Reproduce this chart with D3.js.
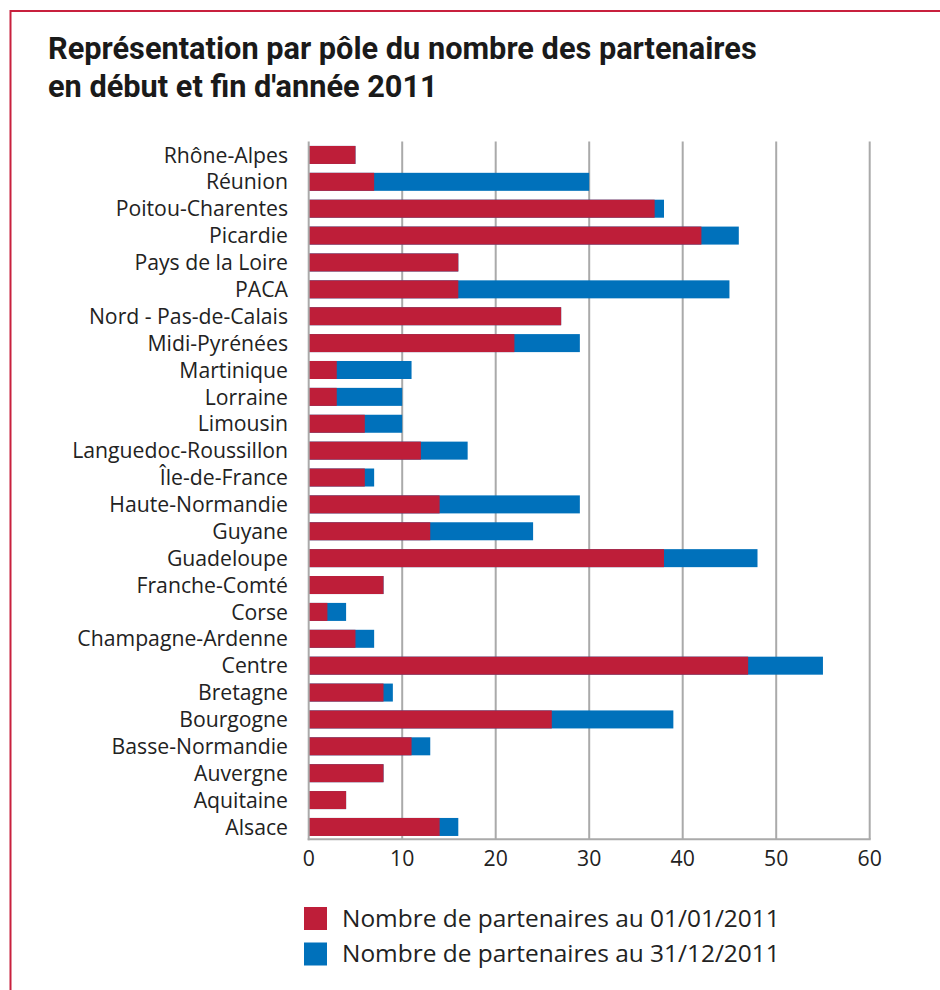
<!DOCTYPE html>
<html>
<head>
<meta charset="utf-8">
<script src="https://cdn.jsdelivr.net/npm/d3@7"></script>
<style>
  html, body { margin: 0; padding: 0; background: #fff; }
  svg { display: block; }
</style>
</head>
<body>
<svg id="chart" width="940" height="990"></svg>
<script>
const titleLines = ["Représentation par pôle du nombre des partenaires", "en début et fin d'année 2011"];
const categories = ["Rhône-Alpes", "Réunion", "Poitou-Charentes", "Picardie", "Pays de la Loire", "PACA",
  "Nord - Pas-de-Calais", "Midi-Pyrénées", "Martinique", "Lorraine", "Limousin", "Languedoc-Roussillon",
  "Île-de-France", "Haute-Normandie", "Guyane", "Guadeloupe", "Franche-Comté", "Corse",
  "Champagne-Ardenne", "Centre", "Bretagne", "Bourgogne", "Basse-Normandie", "Auvergne", "Aquitaine", "Alsace"];
const debut2011 = [5, 7, 37, 42, 16, 16, 27, 22, 3, 3, 6, 12, 6, 14, 13, 38, 8, 2, 5, 47, 8, 26, 11, 8, 4, 14];
const fin2011   = [5, 30, 38, 46, 16, 45, 27, 29, 11, 10, 10, 17, 7, 29, 24, 48, 8, 4, 7, 55, 9, 39, 13, 8, 4, 16];
const xTicks = [0, 10, 20, 30, 40, 50, 60];
const seriesNames = ["Nombre de partenaires au 01/01/2011", "Nombre de partenaires au 31/12/2011"];
const colors = ["#be1e39", "#0071bb"];

const svg = d3.select("#chart");
const titleFont = "Roboto, 'Open Sans', sans-serif";
const bodyFont = "'Open Sans', Roboto, sans-serif";

// scale a font size so that a sample string reaches a target width
function fitSize(text, family, weight, target) {
  const t = svg.append("text").attr("font-family", family).attr("font-weight", weight)
    .attr("font-size", 20).text(text);
  const w = t.node().getComputedTextLength();
  t.remove();
  return 20 * target / w;
}

// frame
svg.append("line").attr("x1", 10.5).attr("x2", 940).attr("y1", 11).attr("y2", 11)
  .attr("stroke", "#c8203d").attr("stroke-width", 2);
svg.append("line").attr("x1", 10.5).attr("x2", 10.5).attr("y1", 10).attr("y2", 990)
  .attr("stroke", "#c8203d").attr("stroke-width", 2);

// title
const titleSize = fitSize(titleLines[0], titleFont, 700, 709);
svg.append("g").selectAll("text").data(titleLines).join("text")
  .attr("x", 48).attr("y", (d, i) => 59 + i * 38)
  .attr("font-family", titleFont).attr("font-weight", 700).attr("font-size", titleSize)
  .attr("fill", "#1a1a1a").text(d => d);

const x = d3.scaleLinear().domain([0, 60]).range([308.7, 869.7]);
const y = d3.scaleBand().domain(categories).range([141.5, 840.4]).paddingInner(0.33).paddingOuter(0.165);
const axisY = 839.3;

// grid
svg.append("g").selectAll("line").data(xTicks.filter(t => t > 0)).join("line")
  .attr("x1", d => x(d)).attr("x2", d => x(d)).attr("y1", 141.5).attr("y2", axisY)
  .attr("stroke", "#aaaaaa").attr("stroke-width", 2);

// bars: end-of-year behind, start-of-year in front
const rows = categories.map((c, i) => ({ c, d: debut2011[i], f: fin2011[i] }));
svg.append("g").selectAll("rect").data(rows).join("rect")
  .attr("x", x(0)).attr("y", d => y(d.c)).attr("height", y.bandwidth())
  .attr("width", d => x(d.f) - x(0)).attr("fill", colors[1]);
svg.append("g").selectAll("rect").data(rows).join("rect")
  .attr("x", x(0)).attr("y", d => y(d.c)).attr("height", y.bandwidth())
  .attr("width", d => x(d.d) - x(0)).attr("fill", colors[0]);

// axes lines
svg.append("line").attr("x1", x(0)).attr("x2", x(0)).attr("y1", 141.5).attr("y2", axisY + 1)
  .attr("stroke", "#aaaaaa").attr("stroke-width", 2);
svg.append("line").attr("x1", x(0) - 1).attr("x2", x(60) + 1).attr("y1", axisY).attr("y2", axisY)
  .attr("stroke", "#aaaaaa").attr("stroke-width", 2);

// category labels
const labelSize = fitSize("Languedoc-Roussillon", bodyFont, 400, 216);
svg.append("g").selectAll("text").data(categories).join("text")
  .attr("x", 288).attr("y", d => y(d) + y.bandwidth() / 2).attr("dy", "0.36em")
  .attr("text-anchor", "end").attr("font-family", bodyFont).attr("font-size", labelSize)
  .attr("fill", "#222").text(d => d);

// x tick labels
svg.append("g").selectAll("text").data(xTicks).join("text")
  .attr("x", d => x(d)).attr("y", 866).attr("text-anchor", "middle")
  .attr("font-family", bodyFont).attr("font-size", labelSize).attr("fill", "#222").text(d => d);

// legend
const legendSize = fitSize(seriesNames[0], bodyFont, 400, 438);
const lg = svg.append("g").selectAll("g").data(seriesNames).join("g")
  .attr("transform", (d, i) => `translate(304, ${907 + i * 35.5})`);
lg.append("rect").attr("width", 23).attr("height", 23).attr("fill", (d, i) => colors[i]);
lg.append("text").attr("x", 38).attr("y", 19.5).attr("font-family", bodyFont)
  .attr("font-size", legendSize).attr("fill", "#222").text(d => d);
</script>
</body>
</html>
